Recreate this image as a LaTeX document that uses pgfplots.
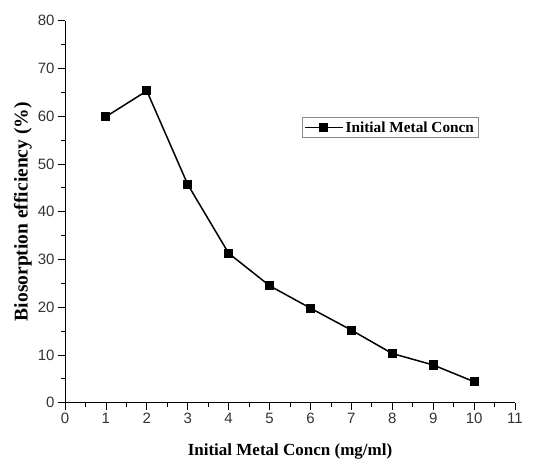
\documentclass[border=0pt]{standalone}
\usepackage{pgfplots}
\pgfplotsset{compat=1.18}
\usepackage{fontspec}
\setmainfont{Liberation Serif}
\newfontfamily\arial{Liberation Sans}
\begin{document}
\begin{tikzpicture}
\begin{axis}[
  scale only axis,
  width=450pt, height=382pt,
  xmin=0, xmax=11, ymin=0, ymax=80,
  axis x line*=bottom, axis y line*=left,
  axis line style={-, line width=0.9pt},
  xtick={0,1,...,11}, ytick={0,10,...,80},
  minor x tick num=1, minor y tick num=1,
  tick align=outside,
  major tick length=7pt, minor tick length=4pt,
  tick style={line width=0.8pt, black},
  /pgf/number format/assume math mode=true,
  ticklabel style={font=\arial\fontsize{15}{17}\selectfont, text=black!80},
  xlabel={\bfseries Initial Metal Concn (mg/ml)},
  ylabel={\bfseries Biosorption efficiency (\%)},
  xlabel style={font=\fontsize{17}{19}\selectfont, yshift=-13pt},
  ylabel style={font=\fontsize{19.5}{21}\selectfont, yshift=-1pt},
  legend style={at={(axis cs:5.79,57.6)}, anchor=west, draw=black!45, line width=0.6pt,
    font=\bfseries\fontsize{15.3}{17}\selectfont, inner sep=2pt},
  legend image code/.code={\draw[mark repeat=2, mark phase=2, #1] plot coordinates {(0pt,0pt) (19pt,0pt) (38pt,0pt)};},
  legend cell align=left,
]
\addplot[black, line width=1.5pt, mark=square*, mark size=3.8pt, mark options={solid}]
coordinates {(1,59.9) (2,65.3) (3,45.7) (4,31.3) (5,24.5) (6,19.8) (7,15.2) (8,10.3) (9,7.9) (10,4.4)};
\addlegendentry{Initial Metal Concn}
\end{axis}
\path (current axis.south west) ++(-65pt,-57.3pt) coordinate (bl);
\path (current axis.north east) ++(25pt,20.7pt) coordinate (tr);
\useasboundingbox (bl) rectangle (tr);
\end{tikzpicture}
\end{document}
